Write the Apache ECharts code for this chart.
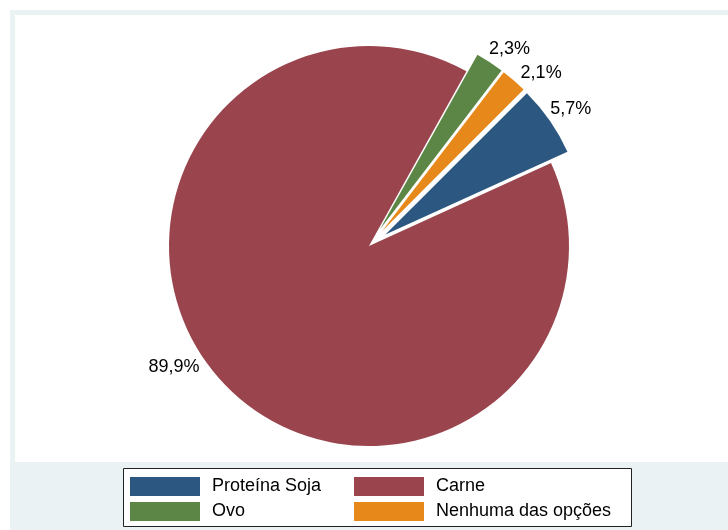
<!DOCTYPE html>
<html>
<head>
<meta charset="utf-8">
<script src="https://cdn.jsdelivr.net/npm/echarts@6/dist/echarts.min.js"></script>
<style>
html,body{margin:0;padding:0;background:#fff;}
#chart{width:728px;height:530px;}
</style>
</head>
<body>
<div id="chart"></div>
<script>
const categories = ['Proteína Soja', 'Carne', 'Ovo', 'Nenhuma das opções'];
const values = [5.7, 89.9, 2.3, 2.1];
const exploded = [true, false, true, true];
const colors = ['#2C5780', '#9A454D', '#5B8645', '#E6891A'];
const legendCol1 = ['Proteína Soja', 'Ovo'];
const legendCol2 = ['Carne', 'Nenhuma das opções'];
// small label nudges (style only)
const labelNudge = [[2, 2], [-31, -30], [7, 6], [12, 10]];

const FONT = '"Liberation Sans", Arial, Helvetica, sans-serif';
const chart = echarts.init(document.getElementById('chart'), null, {renderer: 'canvas'});

const pieData = categories.map((c, i) => ({
  name: c,
  value: values[i],
  selected: exploded[i],
  itemStyle: {color: colors[i]}
}));

const legendBase = {
  orient: 'vertical',
  icon: 'rect',
  itemWidth: 70,
  itemHeight: 19,
  itemGap: 6,
  padding: 0,
  selectedMode: false,
  textStyle: {fontFamily: FONT, fontSize: 18, color: '#000', lineHeight: 19, padding: [0, 0, 0, 7]}
};

chart.setOption({
  animation: false,
  backgroundColor: '#ffffff',
  color: colors,
  graphic: [
    {type: 'rect', z: -10, shape: {x: 10, y: 10, width: 718, height: 520}, style: {fill: '#EAF2F3'}},
    {type: 'rect', z: -9, shape: {x: 15, y: 15, width: 713, height: 447}, style: {fill: '#ffffff'}},
    {type: 'rect', z: -8, shape: {x: 123.5, y: 468.5, width: 508, height: 58}, style: {fill: '#ffffff', stroke: '#222', lineWidth: 1}}
  ],
  legend: [
    Object.assign({}, legendBase, {data: legendCol1, left: 130, top: 477}),
    Object.assign({}, legendBase, {data: legendCol2, left: 354, top: 477})
  ],
  series: [{
    type: 'pie',
    center: [369, 246],
    radius: 200,
    startAngle: 45,
    clockwise: true,
    selectedMode: 'multiple',
    selectedOffset: 20,
    avoidLabelOverlap: false,
    itemStyle: {borderWidth: 0},
    emphasis: {disabled: true},
    label: {
      show: true,
      position: 'outside',
      fontFamily: FONT,
      fontSize: 18,
      color: '#000',
      distanceToLabelLine: 0,
      formatter: p => values[p.dataIndex].toFixed(1).replace('.', ',') + '%'
    },
    labelLine: {show: false, length: 23, length2: 0},
    labelLayout: p => ({
      align: 'center',
      verticalAlign: 'middle',
      dx: labelNudge[p.dataIndex][0],
      dy: labelNudge[p.dataIndex][1]
    }),
    data: pieData
  }]
});
</script>
</body>
</html>
